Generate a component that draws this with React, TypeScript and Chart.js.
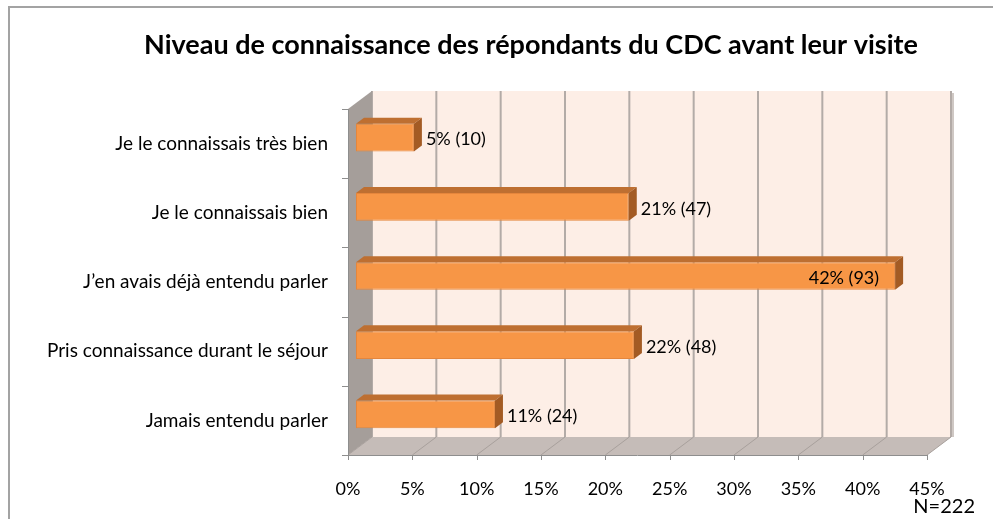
import React, { useEffect, useRef } from "react";
import { Chart, registerables } from "chart.js";

Chart.register(...registerables);

const TITLE = "Niveau de connaissance des répondants du CDC avant leur visite";
const categories = [
  "Je le connaissais très bien",
  "Je le connaissais bien",
  "J’en avais déjà entendu parler",
  "Pris connaissance durant le séjour",
  "Jamais entendu parler",
];
const percentValues = [4.5, 21.2, 41.9, 21.6, 10.8];
const percentLabels = ["5%", "21%", "42%", "22%", "11%"];
const counts = [10, 47, 93, 48, 24];
const xMin = 0;
const xMax = 45;
const xStep = 5;
const N_LABEL = "N=222";

const FONT = "Lato, 'Noto Sans', sans-serif";
// one third of the 3D depth vector (bar plane is 1/3 deep)
const DX = 8;
const DY = -6;

function poly(ctx: CanvasRenderingContext2D, pts: number[][], fill: string) {
  ctx.beginPath();
  ctx.moveTo(pts[0][0], pts[0][1]);
  for (let i = 1; i < pts.length; i++) ctx.lineTo(pts[i][0], pts[i][1]);
  ctx.closePath();
  ctx.fillStyle = fill;
  ctx.fill();
}

const threeDPlugin = {
  id: "threeD",
  beforeDraw(chart: any) {
    const ctx = chart.ctx as CanvasRenderingContext2D;
    ctx.save();
    ctx.fillStyle = "#ffffff";
    ctx.fillRect(0, 0, chart.width, chart.height);
    ctx.strokeStyle = "#a3a3a3";
    ctx.lineWidth = 2;
    ctx.strokeRect(9, 7, chart.width + 40, chart.height + 40);
    ctx.restore();
  },
  beforeDatasetsDraw(chart: any) {
    const ctx = chart.ctx as CanvasRenderingContext2D;
    const xs = chart.scales.x;
    const ys = chart.scales.y;
    const x0 = xs.getPixelForValue(xMin);
    const x1 = xs.getPixelForValue(xMax);
    const top = ys.top;
    const bot = ys.bottom;
    const fx = (p: number) => p - DX;
    const fy = (p: number) => p - DY;
    const bx = (p: number) => p + 2 * DX;
    const by = (p: number) => p + 2 * DY;
    ctx.save();
    // back wall
    ctx.fillStyle = "#FDEEE6";
    ctx.fillRect(bx(x0), by(top), bx(x1) - bx(x0), by(bot) - by(top));
    // back wall grid lines
    for (let v = xMin; v <= xMax; v += xStep) {
      const p = xs.getPixelForValue(v);
      ctx.strokeStyle = "#B3ABA7";
      ctx.lineWidth = 2;
      ctx.beginPath();
      ctx.moveTo(bx(p), by(top));
      ctx.lineTo(bx(p), by(bot));
      ctx.stroke();
    }
    // right edge shadow
    ctx.strokeStyle = "#CFC8C4";
    ctx.lineWidth = 2;
    ctx.beginPath();
    ctx.moveTo(bx(x1) + 2, by(top) + 2);
    ctx.lineTo(bx(x1) + 2, by(bot));
    ctx.stroke();
    // left wall
    poly(ctx, [[fx(x0), fy(top)], [bx(x0), by(top)], [bx(x0), by(bot)], [fx(x0), fy(bot)]], "#A59E9A");
    // floor
    poly(ctx, [[fx(x0), fy(bot)], [fx(x1), fy(bot)], [bx(x1), by(bot)], [bx(x0), by(bot)]], "#C5BCB8");
    // floor lines
    for (let v = xMin; v <= xMax; v += xStep) {
      const p = xs.getPixelForValue(v);
      ctx.strokeStyle = "#A8A09C";
      ctx.lineWidth = 1;
      ctx.beginPath();
      ctx.moveTo(fx(p), fy(bot));
      ctx.lineTo(bx(p), by(bot));
      ctx.stroke();
    }
    // axis lines
    ctx.strokeStyle = "#8E8E8E";
    ctx.lineWidth = 1;
    ctx.beginPath();
    ctx.moveTo(fx(x0) + 0.5, fy(top));
    ctx.lineTo(fx(x0) + 0.5, fy(bot));
    ctx.moveTo(fx(x0), fy(bot) + 0.5);
    ctx.lineTo(fx(x1), fy(bot) + 0.5);
    ctx.stroke();
    // x ticks
    ctx.beginPath();
    for (let v = xMin; v <= xMax; v += xStep) {
      const p = Math.round(fx(xs.getPixelForValue(v))) + 0.5;
      ctx.moveTo(p, fy(bot));
      ctx.lineTo(p, fy(bot) + 5);
    }
    // y ticks (category boundaries)
    const n = categories.length;
    for (let i = 0; i <= n; i++) {
      const yy = Math.round(fy(top + (i * (bot - top)) / n)) + 0.5;
      ctx.moveTo(fx(x0) - 6, yy);
      ctx.lineTo(fx(x0), yy);
    }
    ctx.stroke();
    ctx.restore();
  },
  afterDatasetsDraw(chart: any) {
    const ctx = chart.ctx as CanvasRenderingContext2D;
    const xs = chart.scales.x;
    const backRight = xs.getPixelForValue(xMax) + 2 * DX;
    const meta = chart.getDatasetMeta(0);
    ctx.save();
    meta.data.forEach((bar: any, i: number) => {
      const { x: xe, y: yc, base, height } = bar.getProps(["x", "y", "base", "height"], true);
      const t = yc - height / 2;
      const b = yc + height / 2;
      poly(ctx, [[base, t], [xe, t], [xe + DX, t + DY], [base + DX, t + DY]], "#BE6F31");
      poly(ctx, [[xe, t], [xe + DX, t + DY], [xe + DX, b + DY], [xe, b]], "#A35B24");
      const text = `${percentLabels[i]} (${counts[i]})`;
      ctx.font = `18px ${FONT}`;
      ctx.fillStyle = "#000000";
      ctx.textBaseline = "middle";
      ctx.textAlign = "left";
      const w = ctx.measureText(text).width;
      const outsideX = xe + DX + 4;
      if (outsideX + w > backRight) {
        ctx.fillText(text, xe - 16 - w, yc + 2);
      } else {
        ctx.fillText(text, outsideX, yc + 2);
      }
    });
    ctx.restore();
  },
  afterDraw(chart: any) {
    const ctx = chart.ctx as CanvasRenderingContext2D;
    ctx.save();
    ctx.fillStyle = "#000000";
    ctx.textBaseline = "middle";
    ctx.textAlign = "center";
    ctx.font = `bold 27px ${FONT}`;
    ctx.fillText(TITLE, 531, 45);
    ctx.font = `20px ${FONT}`;
    ctx.textAlign = "right";
    ctx.fillText(N_LABEL, 975, 507);
    ctx.restore();
  },
};

export default function App() {
  const ref = useRef<HTMLCanvasElement | null>(null);
  useEffect(() => {
    document.body.style.margin = "0";
    const canvas = ref.current;
    if (!canvas) return;
    const chart = new Chart(canvas, {
      type: "bar",
      data: {
        labels: categories,
        datasets: [
          {
            data: percentValues,
            backgroundColor: "#F79646",
            borderColor: "#E5863C",
            borderWidth: 1,
            borderSkipped: false,
            barPercentage: 0.4,
            categoryPercentage: 1,
          },
        ],
      },
      options: {
        indexAxis: "y",
        responsive: false,
        maintainAspectRatio: false,
        animation: false,
        devicePixelRatio: 1,
        layout: { padding: { left: 0, right: 58, top: 103, bottom: 0 } },
        plugins: {
          legend: { display: false },
          tooltip: { enabled: false },
          title: { display: false },
        },
        scales: {
          x: {
            type: "linear",
            min: xMin,
            max: xMax,
            grid: { display: false, drawTicks: false },
            border: { display: false },
            ticks: {
              stepSize: xStep,
              padding: 29,
              labelOffset: -DX,
              color: "#000000",
              font: { family: FONT, size: 18 },
              callback: (v: any) => `${v}%`,
            },
            afterFit: (s: any) => {
              s.height = 70;
            },
          },
          y: {
            type: "category",
            offset: true,
            grid: { display: false, drawTicks: false },
            border: { display: false },
            ticks: {
              padding: 28,
              labelOffset: -DY,
              color: "#000000",
              font: { family: FONT, size: 19 },
            },
            afterFit: (s: any) => {
              s.width = 356;
            },
          },
        },
      },
      plugins: [threeDPlugin],
    } as any);
    return () => chart.destroy();
  }, []);
  return (
    <div style={{ width: 993, height: 519 }}>
      <canvas ref={ref} width={993} height={519} style={{ display: "block" }} />
    </div>
  );
}
